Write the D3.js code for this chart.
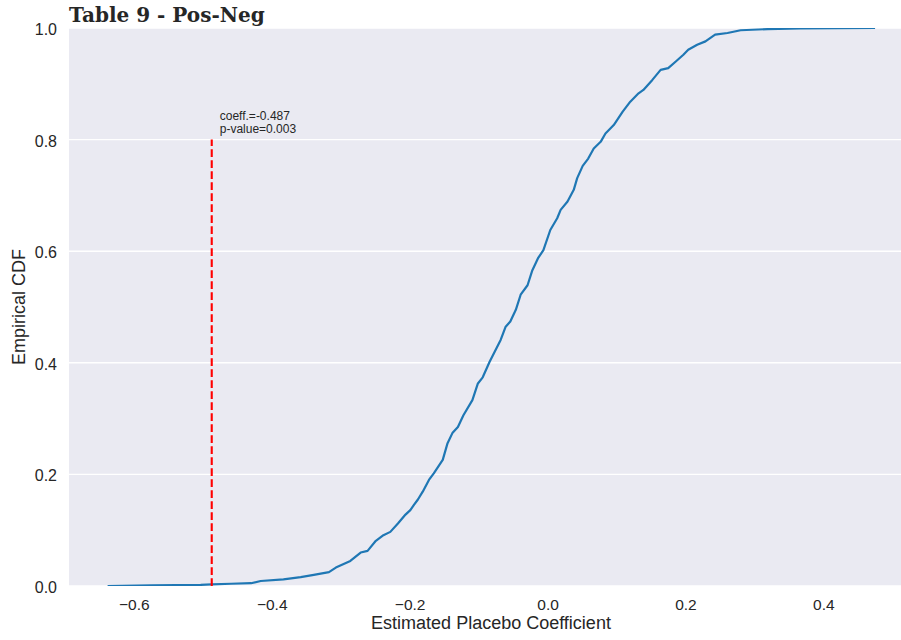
<!DOCTYPE html>
<html>
<head>
    <meta charset="utf-8">
    <title>Table 9 - Pos-Neg</title>
    <script src="https://d3js.org/d3.v7.min.js"></script>
    <style>
        body { margin: 0; background: #fff; }
        svg { display: block; }
        text { fill: #262626; font-family: "Liberation Sans", Arial, sans-serif; }
    </style>
</head>
<body>
<svg id="chart"></svg>
<script>
    // values
    var ecdfX = [-0.638, -0.575, -0.503, -0.487, -0.459, -0.430, -0.416, -0.383, -0.358, -0.339,
        -0.317, -0.307, -0.286, -0.271, -0.261, -0.249, -0.238, -0.228, -0.217, -0.206,
        -0.199, -0.194, -0.188, -0.181, -0.172, -0.165, -0.152, -0.145, -0.138, -0.130,
        -0.122, -0.109, -0.101, -0.094, -0.084, -0.068, -0.061, -0.054, -0.046, -0.039,
        -0.029, -0.022, -0.014, -0.006, 0.004, 0.014, 0.019, 0.029, 0.038, 0.043,
        0.051, 0.059, 0.067, 0.077, 0.084, 0.096, 0.109, 0.120, 0.132, 0.139,
        0.152, 0.164, 0.175, 0.186, 0.197, 0.204, 0.217, 0.229, 0.243, 0.261,
        0.280, 0.319, 0.367, 0.475];
    var ecdfY = [0, 0.001, 0.002, 0.003, 0.004, 0.005, 0.009, 0.012, 0.016, 0.020,
        0.025, 0.033, 0.045, 0.060, 0.063, 0.081, 0.091, 0.097, 0.112, 0.128,
        0.136, 0.145, 0.155, 0.169, 0.190, 0.202, 0.226, 0.256, 0.274, 0.285,
        0.306, 0.333, 0.363, 0.374, 0.402, 0.441, 0.464, 0.474, 0.495, 0.522,
        0.539, 0.566, 0.587, 0.602, 0.638, 0.659, 0.674, 0.689, 0.710, 0.731,
        0.753, 0.766, 0.784, 0.796, 0.811, 0.826, 0.850, 0.868, 0.883, 0.889,
        0.907, 0.925, 0.928, 0.940, 0.952, 0.961, 0.970, 0.976, 0.988, 0.991,
        0.996, 0.998, 0.9995, 1.0];
    var xTicks = [-0.6, -0.4, -0.2, 0.0, 0.2, 0.4];
    var yTicks = [0.0, 0.2, 0.4, 0.6, 0.8, 1.0];
    var coeff = -0.487;
    var pValue = 0.003;
    var markerTop = 0.8;

    var width = 901, height = 640;
    var plotL = 69, plotT = 28, plotR = 913, plotB = 586;

    var svg = d3.select("#chart")
        .attr("width", width)
        .attr("height", height);

    var x = d3.scaleLinear().domain([-0.694, 0.530]).range([plotL, plotR]);
    var y = d3.scaleLinear().domain([0, 1]).range([plotB, plotT]);

    svg.append("defs").append("clipPath").attr("id", "clip")
        .append("rect")
        .attr("x", plotL).attr("y", plotT)
        .attr("width", plotR - plotL).attr("height", plotB - plotT);

    svg.append("rect")
        .attr("x", plotL).attr("y", plotT)
        .attr("width", plotR - plotL).attr("height", plotB - plotT)
        .attr("fill", "#eaeaf2");

    // horizontal grid only
    svg.append("g")
        .selectAll("line")
        .data(yTicks)
        .enter().append("line")
        .attr("x1", plotL).attr("x2", plotR)
        .attr("y1", function(d) { return y(d); })
        .attr("y2", function(d) { return y(d); })
        .attr("stroke", "#fff")
        .attr("stroke-width", 1.4);

    var fmt = function(d) { return d3.format(".1f")(d).replace("-", "\u2212"); };

    var xAxis = svg.append("g")
        .attr("transform", "translate(0," + plotB + ")")
        .call(d3.axisBottom(x).tickValues(xTicks).tickFormat(fmt).tickSize(0).tickPadding(13));
    xAxis.select(".domain").remove();
    xAxis.selectAll("text").style("font-size", "15.5px").attr("fill", "#262626")
        .style("font-family", "'Liberation Sans', Arial, sans-serif");

    var yAxis = svg.append("g")
        .attr("transform", "translate(" + plotL + ",0)")
        .call(d3.axisLeft(y).tickValues(yTicks).tickFormat(fmt).tickSize(0).tickPadding(12));
    yAxis.select(".domain").remove();
    yAxis.selectAll("text").style("font-size", "16px").attr("fill", "#262626")
        .attr("dy", "0.4em")
        .style("font-family", "'Liberation Sans', Arial, sans-serif");

    var line = d3.line()
        .x(function(d, i) { return x(ecdfX[i]); })
        .y(function(d, i) { return y(ecdfY[i]); });

    svg.append("path")
        .attr("clip-path", "url(#clip)")
        .attr("d", line(ecdfX))
        .attr("fill", "none")
        .attr("stroke", "#1f77b4")
        .attr("stroke-width", 2.2)
        .attr("stroke-linejoin", "round");

    svg.append("line")
        .attr("x1", x(coeff)).attr("x2", x(coeff))
        .attr("y1", y(0)).attr("y2", y(markerTop))
        .attr("stroke", "#ff0000")
        .attr("stroke-width", 2.1)
        .attr("stroke-dasharray", "7.7,3.3");

    var note = svg.append("text")
        .attr("x", x(coeff) + 8)
        .attr("y", y(markerTop) - 19.5)
        .style("font-size", "12px");
    note.append("tspan").text("coeff.=" + coeff);
    note.append("tspan").attr("x", x(coeff) + 8).attr("dy", 13.3)
        .text("p-value=" + pValue.toFixed(3));

    svg.append("text")
        .attr("x", 69).attr("y", 22)
        .style("font-family", "'DejaVu Serif', serif")
        .style("font-weight", "bold")
        .style("font-size", "20px")
        .text("Table 9 - Pos-Neg");

    svg.append("text")
        .attr("x", (plotL + plotR) / 2).attr("y", 629)
        .attr("text-anchor", "middle")
        .style("font-size", "18px")
        .text("Estimated Placebo Coefficient");

    svg.append("text")
        .attr("transform", "translate(25," + (plotT + plotB) / 2 + ") rotate(-90)")
        .attr("text-anchor", "middle")
        .style("font-size", "18px")
        .text("Empirical CDF");
</script>
</body>
</html>
